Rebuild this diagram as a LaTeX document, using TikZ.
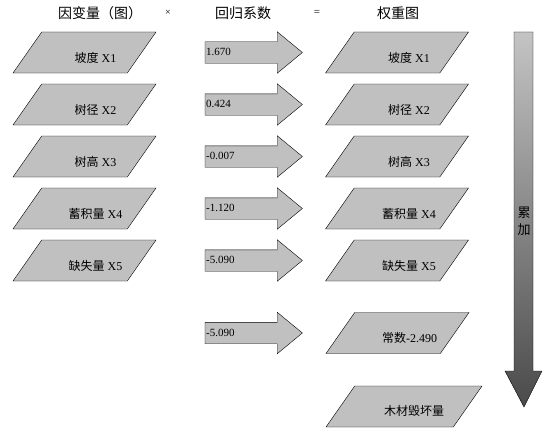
\documentclass[tikz,border=0pt]{standalone}
\usepackage{fontspec}
\setmainfont{Liberation Serif}
\newfontfamily\cjk{Noto Sans CJK SC}
\usetikzlibrary{shapes.geometric,shapes.arrows}
\definecolor{boxgray}{HTML}{C0C0C0}
\definecolor{sumlight}{HTML}{C4C4C4}
\definecolor{sumdark}{HTML}{4A4A4A}

\begin{document}
\begin{tikzpicture}[x=1pt,y=-1pt,
	every label/.append style={font=\fontsize{12}{12}\selectfont},
	para/.style={draw=black,fill=boxgray,trapezium,trapezium left angle=55,
		trapezium right angle=125,trapezium stretches body,minimum width=143pt,
		text height=41pt,text depth=0pt,inner sep=0pt,outer sep=0pt},
	coef/.style={draw=black,fill=boxgray,single arrow,single arrow tip angle=79,
		single arrow head extend=10pt,anchor=tail,text width=82pt,align=left,
		inner xsep=1pt,inner ysep=5.5pt,text height=8pt,text depth=2pt,outer sep=0pt,
		font=\fontsize{11}{12}\selectfont},
	head/.style={font=\cjk\fontsize{14}{16}\selectfont}]
		\useasboundingbox (0,0) rectangle (553,436);
		\node[head] (hx) at (100,13) {因变量（图）};
		\node[font=\fontsize{10}{12}\selectfont] (times) at (168,13) {×};
		\node[head] (hb) at (243,13) {回归系数};
		\node[font=\fontsize{11}{12}\selectfont] (equals) at (317,13) {=};
		\node[head] (hw) at (398,13) {权重图};
		\node[para,label={[xshift=11pt,yshift=-5pt]center:{\cjk 坡度} X1}] (X1) at (84.5,52.5) {};
		\node[para,label={[xshift=11pt,yshift=-5pt]center:{\cjk 树径} X2}] (X2) at (84.5,104.5) {};
		\node[para,label={[xshift=11pt,yshift=-5pt]center:{\cjk 树高} X3}] (X3) at (84.5,156.5) {};
		\node[para,label={[xshift=11pt,yshift=-5pt]center:{\cjk 蓄积量} X4}] (X4) at (84.5,208.5) {};
		\node[para,label={[xshift=11pt,yshift=-5pt]center:{\cjk 缺失量} X5}] (X5) at (84.5,260.5) {};
		\node[coef] (b1) at (205,52.5) {1.670};
		\node[coef] (b2) at (205,104.5) {0.424};
		\node[coef] (b3) at (205,156.5) {-0.007};
		\node[coef] (b4) at (205,208.5) {-1.120};
		\node[coef] (b5) at (205,260.5) {-5.090};
		\node[coef] (b0) at (205,333) {-5.090};
		\node[para,label={[xshift=12pt,yshift=-5pt]center:{\cjk 坡度} X1}] (W1) at (397,52.5) {};
		\node[para,label={[xshift=12pt,yshift=-5pt]center:{\cjk 树径} X2}] (W2) at (397,104.5) {};
		\node[para,label={[xshift=12pt,yshift=-5pt]center:{\cjk 树高} X3}] (W3) at (397,156.5) {};
		\node[para,label={[xshift=12pt,yshift=-5pt]center:{\cjk 蓄积量} X4}] (W4) at (397,208.5) {};
		\node[para,label={[xshift=12pt,yshift=-5pt]center:{\cjk 缺失量} X5}] (W5) at (397,260.5) {};
		\node[para,label={[xshift=12pt,yshift=-5pt]center:{\cjk 常数}-2.490}] (W0) at (397.5,333) {};
		\node[para,minimum width=156pt,label={[xshift=10pt,yshift=-4pt]center:{\cjk 木材毁坏量}}] (Y) at (404,406.5) {};
		% accumulation arrow
		\shade[draw=black,top color=sumlight,bottom color=sumdark]
			(514,32) -- (533,32) -- (533,371) -- (542,371) -- (524,407)
			-- (505,371) -- (514,371) -- cycle;
		\node[align=center,font=\cjk\fontsize{13}{17}\selectfont] (sum) at (524,221.5) {累\\加};
\end{tikzpicture}
\end{document}
